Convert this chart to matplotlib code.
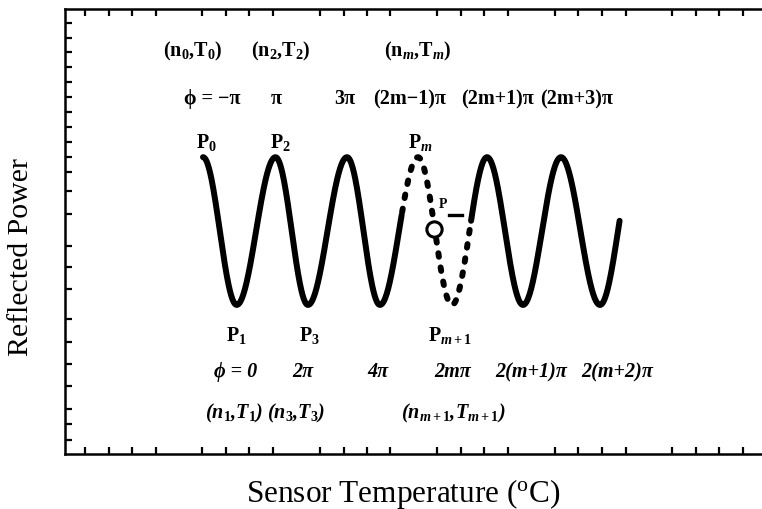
import numpy as np
import matplotlib
matplotlib.use("Agg")
import matplotlib.pyplot as plt

plt.rcParams['font.family'] = ['Liberation Serif', 'DejaVu Serif']
plt.rcParams['mathtext.fontset'] = 'custom'
plt.rcParams['mathtext.rm'] = 'Liberation Serif:bold'
plt.rcParams['mathtext.it'] = 'Liberation Serif:italic:bold'
plt.rcParams['mathtext.bf'] = 'Liberation Serif:bold'

# ---- data (arbitrary temperature units 0..100, power 0..1) ----
extrema_T = [19.80, 24.63, 30.20, 34.86, 40.46, 45.19, 50.65, 55.52,
             60.55, 65.71, 71.16, 76.76, 81.92]
extrema_P = [0.667, 0.335, 0.667, 0.335, 0.667, 0.335, 0.667, 0.335,
             0.667, 0.335, 0.667, 0.335, 0.667]
curve_end_T = 79.63
dashed_range_T = [48.35, 58.25]
probe_T = [52.94]
probe_P = [0.506]

top_nT_labels = ["(n$_0$,T$_0$)", "(n$_2$,T$_2$)", "(n$_m$,T$_m$)"]
top_nT_x = [18.36, 30.99, 50.65]
top_phase_labels = ["\u03d5 = \u2212\u03c0", "\u03c0", "3\u03c0", "(2m\u22121)\u03c0",
                    "(2m+1)\u03c0", "(2m+3)\u03c0"]
top_phase_x = [21.09, 30.27, 40.17, 49.5, 61.98, 73.46]
top_P_labels = ["P$_0$", "P$_2$", "P$_m$"]
top_P_x = [20.23, 30.85, 50.93]
bot_P_labels = ["P$_1$", "P$_3$", "P$_{m+1}$"]
bot_P_x = [24.53, 35.01, 55.24]
bot_phase_labels = ["\u03d5 = 0", "2\u03c0", "4\u03c0", "2m\u03c0", "2(m+1)\u03c0", "2(m+2)\u03c0"]
bot_phase_x = [24.53, 34.15, 44.91, 55.67, 66.86, 79.20]
bot_nT_labels = ["(n$_1$,T$_1$)", "(n$_3$,T$_3$)", "(n$_{m+1}$,T$_{m+1}$)"]
bot_nT_x = [24.25, 33.14, 55.67]


def half_cosine_path(xs, ys, n=80):
    X, Y = [], []
    for i in range(len(xs) - 1):
        t = np.linspace(0, 1, n)
        X.append(xs[i] + (xs[i + 1] - xs[i]) * t)
        Y.append(ys[i] + (ys[i + 1] - ys[i]) * (1 - np.cos(np.pi * t)) / 2)
    return np.concatenate(X), np.concatenate(Y)


x, y = half_cosine_path(extrema_T, extrema_P)
keep = x <= curve_end_T
x, y = x[keep], y[keep]

fig = plt.figure(figsize=(7.62, 5.10), dpi=100)
ax = fig.add_axes([65 / 762, 55 / 510, 1.02 - 65 / 762, 445 / 510])
ax.set_xlim(0, (1.02 * 762 - 65) / 697 * 100)
ax.set_ylim(0, 1)

d0, d1 = dashed_range_T
m1 = x <= d0
m2 = (x >= d0) & (x <= d1)
m3 = x >= d1
lw = 4.3
ax.plot(x[m1], y[m1], color='black', lw=lw, solid_capstyle='round')
ax.plot(x[m3], y[m3], color='black', lw=lw, solid_capstyle='round')
ax.plot(x[m2], y[m2], color='black', lw=lw, dashes=(0.6, 1.8), dash_capstyle='round')
ax.plot(probe_T, probe_P, 'o', ms=11, mfc='white', mec='black', mew=2.2, zorder=5)

fs = 14.5
kw = dict(ha='center', va='center', fontsize=fs, fontweight='bold')
for s, xx in zip(top_nT_labels, top_nT_x):
    ax.text(xx, 0.906, s, **kw)
for s, xx in zip(top_phase_labels, top_phase_x):
    ax.text(xx, 0.800, s, **kw)
for s, xx in zip(top_P_labels, top_P_x):
    ax.text(xx, 0.703, s, **kw)
for s, xx in zip(bot_P_labels, bot_P_x):
    ax.text(xx, 0.268, s, **kw)
for s, xx in zip(bot_phase_labels, bot_phase_x):
    ax.text(xx, 0.1865, s, fontstyle='italic', **kw)
for s, xx in zip(bot_nT_labels, bot_nT_x):
    ax.text(xx, 0.094, s, fontstyle='italic', **kw)
# small label near the probe point
ax.text(54.2, 0.564, "P", ha='center', va='center', fontsize=10, fontweight='bold')
ax.plot([55.1, 57.0], [0.538, 0.538], color='black', lw=2.4)

# ticks (inward, no labels)
px_ticks = [85 + 23.5 * k for k in range(29) if k % 5 != 4]
xt = [(p - 65) / 697 * 100 for p in px_ticks]
py_ticks = [24, 39, 53, 68, 83, 98, 113, 128, 143, 158, 173, 192, 215, 247, 268,
            290, 320, 343, 365, 387, 410, 425, 441]
yt = [(455 - p) / 445 for p in py_ticks]
ax.set_xticks(xt)
ax.set_yticks(yt)
ax.tick_params(axis='both', direction='in', length=5, width=1.6,
               top=True, bottom=True, left=True, right=False,
               labelbottom=False, labelleft=False)
for side in ['left', 'top', 'bottom']:
    ax.spines[side].set_linewidth(1.8)
ax.spines['right'].set_visible(False)

fig.text(403 / 762, 1 - 494 / 510, "Sensor Temperature ($^{\\mathregular{o}}$C)",
         ha='center', va='center', fontsize=22.5)
fig.text(21 / 762, 1 - 257 / 510, "Reflected Power", ha='center', va='center',
         fontsize=21.5, rotation=90)

fig.savefig("out.png", dpi=100)
